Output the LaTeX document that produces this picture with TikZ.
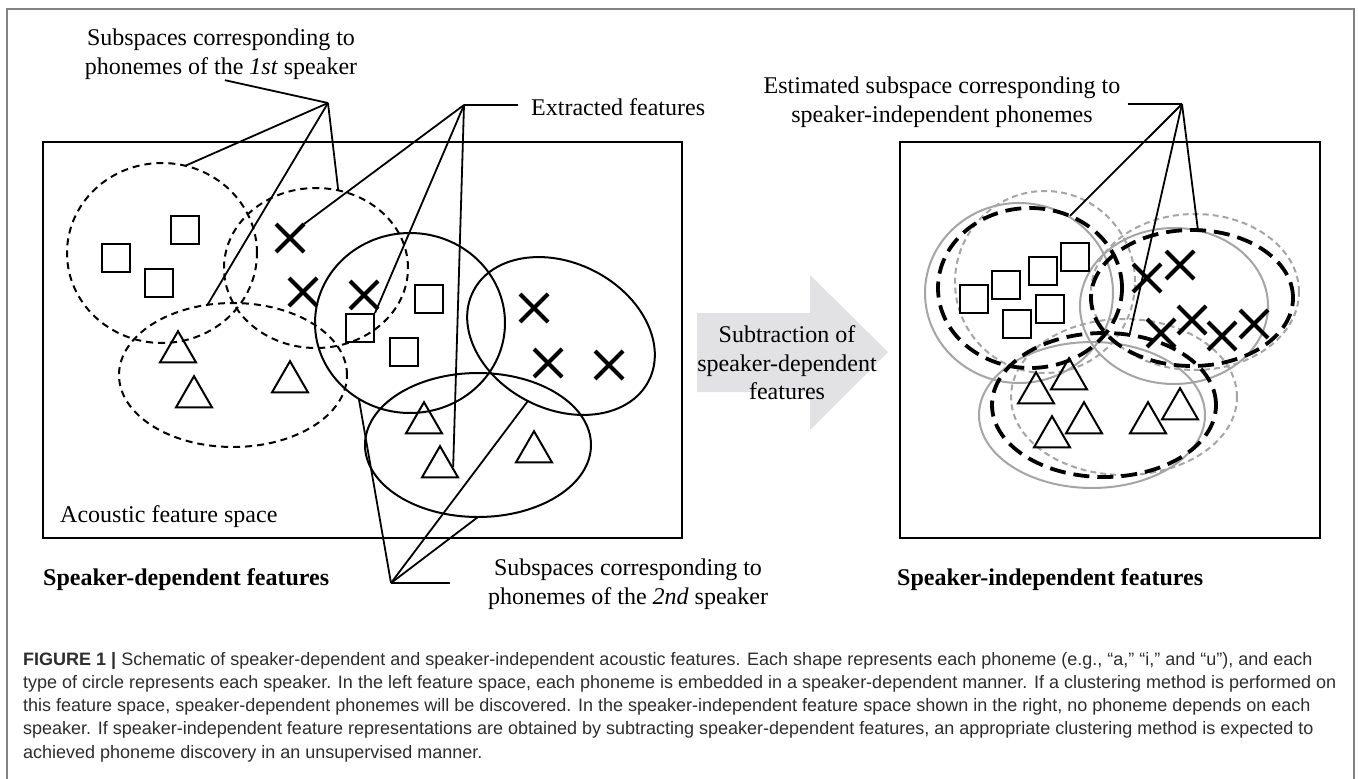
\documentclass[tikz,border=0pt]{standalone}
\usepackage{fontspec}
\setmainfont{Liberation Serif}
\newfontfamily\capfont{Liberation Sans}
\usetikzlibrary{positioning, calc, shapes.geometric, shapes.misc}
\definecolor{arrowgray}{RGB}{226,226,228}
\definecolor{ringgray}{RGB}{165,165,165}
\definecolor{framegray}{RGB}{130,130,130}
\definecolor{captext}{RGB}{45,45,45}

\begin{document}
\begin{tikzpicture}[x=1pt, y=-1pt,
	lbl/.style={inner sep=0, align=center, font=\fontsize{24}{28.5}\selectfont},
	ring/.style={ellipse, inner sep=0, outer sep=0, draw, line width=2},
	dashring/.style={ring, dash pattern=on 7pt off 5pt},
	grayring/.style={ring, draw=ringgray},
	graydash/.style={ring, draw=ringgray, dash pattern=on 6pt off 4pt},
	bigdash/.style={ring, line width=3.8, dash pattern=on 16pt off 8pt},
	sq/.style={draw, minimum size=28, inner sep=0, line width=2},
	tri/.style={regular polygon, regular polygon sides=3, draw, minimum size=41.6, inner sep=0, line width=2},
	xm/.style={cross out, draw, minimum size=24, inner sep=0, line width=4},
	leader/.style={line width=1.8}]
	\useasboundingbox (0,0) rectangle (1358,779);
	\fill[white] (0,0) rectangle (1358,779);
	\draw[framegray, line width=1.5] (7,779) |- (1354,9) -- (1354,779);
	
	% Feature spaces
	\draw[line width=2] (43,142) rectangle (682,538);
	\draw[line width=2] (900,142) rectangle (1320,538);
	
	% Subspaces of the 1st speaker
	\node[dashring, minimum width=190, minimum height=180] (c1) at (162,253) {};
	\node[dashring, minimum width=184, minimum height=160] (c2) at (316,268) {};
	\node[dashring, minimum width=228, minimum height=144] (c3) at (233,375) {};
	
	% Subspaces of the 2nd speaker
	\node[ring, minimum width=190, minimum height=180] (e4) at (410,323) {};
	\node[ring, minimum width=197, minimum height=146, rotate=-27] (e5) at (561,336) {};
	\node[ring, minimum width=226, minimum height=144] (e6) at (478,445) {};
	
	% Estimated subspaces
	\node[grayring, minimum width=188, minimum height=180] (giA) at (1019,293) {};
	\node[graydash, minimum width=180, minimum height=182] (gdA) at (1045,282) {};
	\node[grayring, minimum width=188, minimum height=156] (giB) at (1174,306) {};
	\node[graydash, minimum width=208, minimum height=156] (gdB) at (1195,292) {};
	\node[grayring, minimum width=226, minimum height=146] (giC) at (1092,415) {};
	\node[graydash, minimum width=226, minimum height=156] (gdC) at (1124,397) {};
	\node[bigdash, minimum width=184, minimum height=160] (bdA) at (1030,288) {};
	\node[bigdash, minimum width=202, minimum height=136] (bdB) at (1192,298) {};
	\node[bigdash, minimum width=224, minimum height=144] (bdC) at (1104,405) {};
	
	% Extracted features
	\foreach \p [count=\i] in {(116,258),(185,230),(159,283),(360,328),(429,299),(404,352)}
		\node[sq] (ls\i) at \p {};
	\foreach \p [count=\i] in {(290,238),(303,292),(364,295),(534,308),(548,363),(609,365)}
		\node[xm] (lx\i) at \p {};
	\foreach \p [count=\i] in {(178,352),(194,397),(290,382),(424,423),(440,467),(534,452)}
		\node[tri] (lt\i) at \p {};
	\foreach \p [count=\i] in {(974,299),(1006,285),(1043,271),(1075,257),(1017,324),(1050,309)}
		\node[sq] (rs\i) at \p {};
	\foreach \p [count=\i] in {(1147,278),(1180,265),(1161,333),(1192,320),(1222,336),(1254,324)}
		\node[xm] (rx\i) at \p {};
	\foreach \p [count=\i] in {(1036,393),(1069,379),(1052,437),(1084,423),(1148,423),(1180,409)}
		\node[tri] (rt\i) at \p {};
	
	% Labels
	\node[lbl] (lab1) at (221,54) {Subspaces corresponding to\\phonemes of the \textit{1st} speaker};
	\node[lbl, anchor=west] (lab3) at (531,107) {Extracted features};
	\node[lbl] (lab2) at (628,584) {Subspaces corresponding to\\phonemes of the \textit{2nd} speaker};
	\node[lbl] (lab4) at (942,102) {Estimated subspace corresponding to\\speaker-independent phonemes};
	\node[lbl, anchor=west] (space) at (60,517) {Acoustic feature space};
	\node[lbl, anchor=west, font=\fontsize{24}{28.5}\selectfont\bfseries] (dep) at (43,580) {Speaker-dependent features};
	\node[lbl, anchor=west, font=\fontsize{24}{28.5}\selectfont\bfseries] (indep) at (897,580) {Speaker-independent features};
	
	% Subtraction arrow
	\fill[arrowgray] (697,313) -- (810,313) -- (810,275) -- (888,352) -- (810,430) -- (810,392) -- (697,392) -- cycle;
	\node[lbl] (sub) at (787,363) {Subtraction of\\speaker-dependent\\features};
	
	% Leader lines
	\coordinate (hub1) at (328,103);
	\coordinate (hub2) at (464,105);
	\coordinate (hub3) at (391,583);
	\coordinate (hub4) at (1182,104);
	\draw[leader, shorten <=4] (lab1.south) -- (hub1);
	\draw[leader] (hub1) -- (c1.75);
	\draw[leader] (hub1) -- (c2.74);
	\draw[leader] (hub1) -- (c3.110);
	\draw[leader, shorten >=13] (hub2) -- (hub2 -| lab3.west);
	\draw[leader] (hub2) -- (lx1.north east);
	\draw[leader] (hub2) -- (ls4.north east);
	\draw[leader] (hub2) -- (lt5.east);
	\draw[leader, shorten >=38] (hub3) -- (hub3 -| lab2.west);
	\draw[leader] (hub3) -- (e4.236);
	\draw[leader] (hub3) -- (e5.south);
	\draw[leader] (hub3) -- (e6.south);
	\draw[leader, shorten <=7] (hub4 -| lab4.east) -- (hub4);
	\draw[leader] (hub4) -- (bdA.61);
	\draw[leader] (hub4) -- (bdB.85);
	\draw[leader] (hub4) -- (bdC.70);
	
	% Caption
	\node[anchor=north west, inner sep=0, align=left, text=captext,
		font=\capfont\fontsize{18}{23.2}\selectfont] (caption) at (23,652)
		{\textbf{FIGURE 1 |} Schematic of speaker-dependent and speaker-independent acoustic features. Each shape represents each phoneme (e.g., “a,” “i,” and “u”), and each\\
		type of circle represents each speaker. In the left feature space, each phoneme is embedded in a speaker-dependent manner. If a clustering method is performed on\\
		this feature space, speaker-dependent phonemes will be discovered. In the speaker-independent feature space shown in the right, no phoneme depends on each\\
		speaker. If speaker-independent feature representations are obtained by subtracting speaker-dependent features, an appropriate clustering method is expected to\\
		achieved phoneme discovery in an unsupervised manner.};
\end{tikzpicture}
\end{document}
